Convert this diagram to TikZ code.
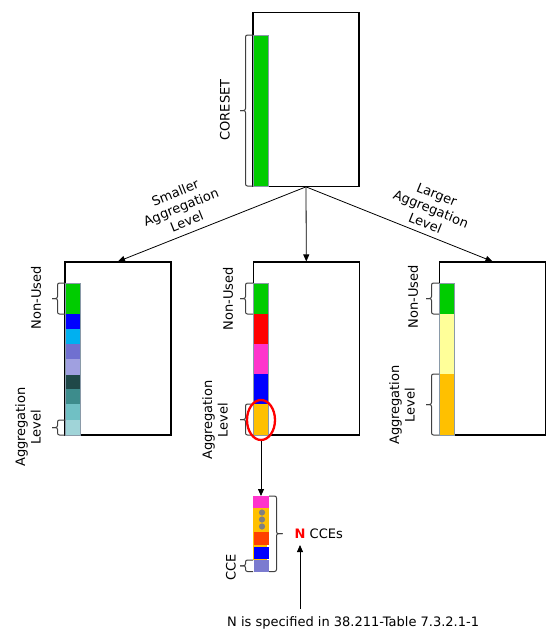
\documentclass[tikz,border=0pt]{standalone}
\usepackage{fontspec}
\setmainfont{DejaVu Sans}
\usetikzlibrary{arrows.meta,shapes.geometric}
\definecolor{cgreen}{HTML}{00CC00}
\definecolor{cblue}{HTML}{0000FF}
\definecolor{clblue}{HTML}{00B0F0}
\definecolor{cmpurple}{HTML}{7070D0}
\definecolor{clpurple}{HTML}{A0A0E0}
\definecolor{cdteal}{HTML}{1F4848}
\definecolor{cteal}{HTML}{3D8C8C}
\definecolor{clteal}{HTML}{70C0C4}
\definecolor{cpteal}{HTML}{A0D4D8}
\definecolor{cred}{HTML}{FF0000}
\definecolor{cmag}{HTML}{FF33CC}
\definecolor{corange}{HTML}{FFC000}
\definecolor{cyellow}{HTML}{FFFF99}
\definecolor{credor}{HTML}{FF4000}
\definecolor{ccepurple}{HTML}{7B7BD0}
\definecolor{cdot}{HTML}{808080}
\definecolor{cstrip}{HTML}{8A9AA8}
\newcommand\mybrk[3]{%
  \draw[brk] (#1,#2) -- (#1-7.5,#2) -- (#1-7.5,{(#2+#3)/2}) -- (#1-13,{(#2+#3)/2});
  \draw[brk] (#1,#3) -- (#1-7.5,#3) -- (#1-7.5,{(#2+#3)/2}) -- (#1-13,{(#2+#3)/2});}
\newcommand\myseg[4]{\fill[#1] (#2,#3) rectangle (#2+15,#4);}
\begin{document}
\begin{tikzpicture}[x=1pt,y=-1pt,
  box/.style={draw=black,line width=1.1pt,minimum width=106pt,minimum height=173pt,inner sep=0pt},
  lbl/.style={font=\fontsize{13}{15.5}\selectfont,align=center,inner sep=0pt},
  arr/.style={-{Triangle[length=7pt,width=6pt]},line width=0.8pt},
  brk/.style={draw=black!75,line width=1pt,rounded corners=2pt},
  stripline/.style={draw=cstrip,line width=0.6pt}]
\useasboundingbox (0,0) rectangle (555,637);
\fill[white] (0,0) rectangle (555,637);
% boxes
\node[box,minimum height=174pt] (top) at (306,99.3) {};
\node[box] (left) at (118,348.5) {};
\node[box] (mid) at (306.3,348.5) {};
\node[box] (right) at (492.5,348.5) {};
% top strip
\myseg{cgreen}{253}{35}{186}
\draw[stripline] (253,35) rectangle (268,186);
\mybrk{253}{35}{186}
\node[lbl,rotate=90] (lcoreset) at (225,110) {CORESET};
% arrows from top
\draw[arr] (top.south) -- (left.north);
\draw[arr] (top.south) -- (mid.north);
\draw[arr] (top.south) -- (right.north);
\node[lbl,rotate=22] (lsmall) at (181,207) {Smaller\\Aggregation\\Level};
\node[lbl,rotate=-22] (llarge) at (431,209) {Larger\\Aggregation\\Level};
% left strip
\myseg{cgreen}{65}{283}{314}
\myseg{cblue}{65}{314}{329}
\myseg{clblue}{65}{329}{344}
\myseg{cmpurple}{65}{344}{359}
\myseg{clpurple}{65}{359}{375}
\myseg{cdteal}{65}{375}{389}
\myseg{cteal}{65}{389}{404}
\myseg{clteal}{65}{404}{420}
\myseg{cpteal}{65}{420}{435}
\draw[stripline] (65,283) rectangle (80,435);
\mybrk{65}{283}{314}
\mybrk{65}{420}{435}
\node[lbl,rotate=90] (lnu1) at (36,298) {Non-Used};
\node[lbl,rotate=90] (lag1) at (28,427) {Aggregation\\Level};
% middle strip
\myseg{cgreen}{253}{283}{314}
\myseg{cred}{253}{314}{344}
\myseg{cmag}{253}{344}{374}
\myseg{cblue}{253}{374}{404}
\myseg{corange}{253}{404}{435}
\draw[stripline] (253,283) rectangle (268,435);
\mybrk{253}{283}{314}
\mybrk{253}{404}{435}
\node[lbl,rotate=90] (lnu2) at (228,299) {Non-Used};
\node[lbl,rotate=90] (lag2) at (215,420) {Aggregation\\Level};
\node[draw=cred,line width=2.3pt,ellipse,minimum width=28pt,minimum height=40pt,inner sep=0pt] (ell) at (261,420) {};
% right strip
\myseg{cgreen}{439}{283}{314}
\myseg{cyellow}{439}{314}{374}
\myseg{corange}{439}{374}{435}
\draw[stripline] (439,283) rectangle (454,435);
\mybrk{439}{283}{314}
\mybrk{439}{374}{435}
\node[lbl,rotate=90] (lnu3) at (413,297) {Non-Used};
\node[lbl,rotate=90] (lag3) at (402,405) {Aggregation\\Level};
% CCE stack
\coordinate (ccetop) at (261,496);
\draw[arr] (ell.south) -- (ccetop);
\fill[corange] (252.7,496) rectangle (267,560);
\fill[cmag] (253,496) rectangle (269,508);
\fill[corange] (253,508) rectangle (268.7,531.5);
\fill[credor] (254,531.5) rectangle (269,545);
\fill[cblue] (254,547) rectangle (269,559);
\fill[ccepurple] (254,560) rectangle (269,571.5);
\foreach \yy in {512.5,519.5,526.5} \fill[cdot] (262,\yy) circle (3.1);
\mybrk{253}{560}{571.5}
\node[lbl,rotate=90] (lcce) at (231,567) {CCE};
\draw[brk] (269,496) -- (276.5,496) -- (276.5,533.7) -- (282.5,533.7);
\draw[brk] (269,571.5) -- (276.5,571.5) -- (276.5,533.7) -- (282.5,533.7);
\node[lbl,anchor=base,text=cred,font=\fontsize{13}{15.5}\selectfont\bfseries] (nN) at (300,538) {N};
\node[lbl,anchor=base west] (lcces) at (309.5,538) {CCEs};
% bottom text
\node[lbl,anchor=base west] (txt) at (227,626) {N is specified in 38.211-Table 7.3.2.1-1};
\coordinate (arrbot) at (300,609);
\draw[arr] (arrbot) -- (300,545);
\end{tikzpicture}
\end{document}
